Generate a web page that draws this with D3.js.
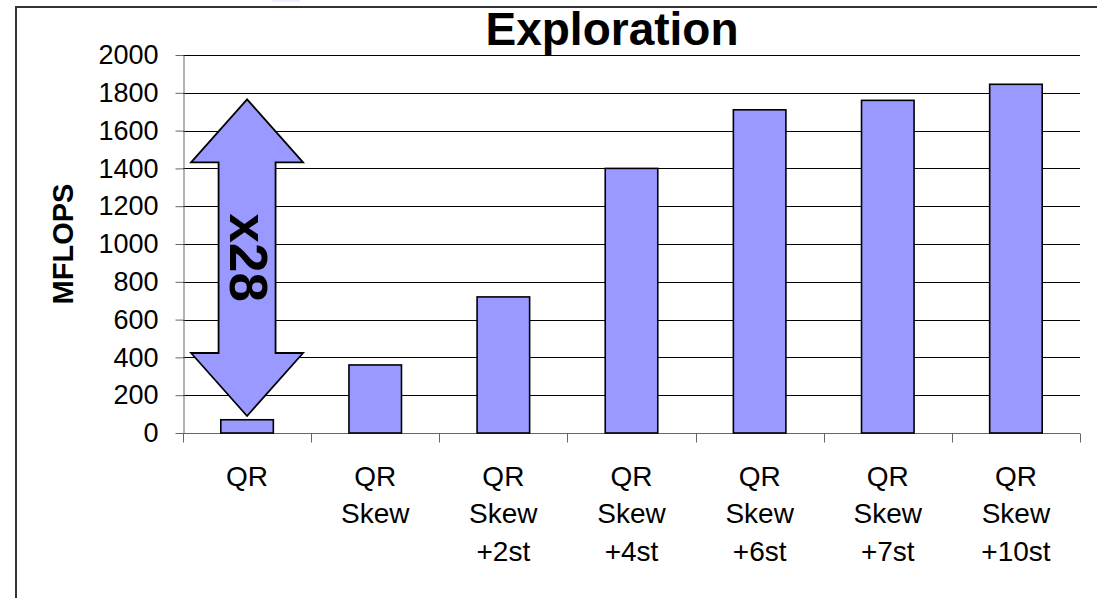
<!DOCTYPE html>
<html>
<head>
<meta charset="utf-8">
<script src="https://cdn.jsdelivr.net/npm/d3@7"></script>
<style>
  body { margin: 0; background: #fff; }
  svg { display: block; font-family: "Liberation Sans", Arial, sans-serif; }
</style>
</head>
<body>
<script>
//chart data
var categories = [["QR"], ["QR", "Skew"], ["QR", "Skew", "+2st"], ["QR", "Skew", "+4st"],
                  ["QR", "Skew", "+6st"], ["QR", "Skew", "+7st"], ["QR", "Skew", "+10st"]];
var mflops = [70, 360, 720, 1400, 1710, 1760, 1845];
var yTicks = [0, 200, 400, 600, 800, 1000, 1200, 1400, 1600, 1800, 2000];
var arrowRange = [90, 1765]; //speedup arrow, in MFLOPS
var arrowLabel = "x28";

window.onload = function(){
    var width = 1097, height = 598;
    var margin = {left: 183, right: 17, top: 55, bottom: 165};

    var svg = d3.select("body").append("svg")
        .attr("width", width)
        .attr("height", height);

    //outer frame
    svg.append("rect")
        .attr("x", 16).attr("y", 7)
        .attr("width", width + 10).attr("height", height + 10)
        .attr("fill", "none")
        .attr("stroke", "#333")
        .attr("stroke-width", 2);
    svg.append("rect")
        .attr("x", 272).attr("y", 0).attr("width", 28).attr("height", 2)
        .attr("fill", "#eeeeff");

    var x = d3.scaleBand()
        .domain(d3.range(categories.length))
        .range([margin.left, width - margin.right]);

    var y = d3.scaleLinear()
        .domain([0, 2000])
        .range([height - margin.bottom, margin.top]);

    //gridlines
    svg.append("g")
        .selectAll("line")
        .data(yTicks.slice(1))
        .enter()
        .append("line")
        .attr("x1", margin.left)
        .attr("x2", width - margin.right)
        .attr("y1", function(d){ return Math.round(y(d)) + 0.5; })
        .attr("y2", function(d){ return Math.round(y(d)) + 0.5; })
        .attr("stroke", "#000")
        .attr("stroke-width", 1);

    //y axis
    var yAxis = svg.append("g")
        .attr("transform", "translate(" + (margin.left + 0.5) + ",0)")
        .call(d3.axisLeft(y).tickValues(yTicks).tickFormat(d3.format("d"))
            .tickSize(8).tickPadding(17).tickSizeOuter(0));
    yAxis.selectAll("text")
        .attr("font-size", 27)
        .attr("font-family", "Liberation Sans, Arial, sans-serif")
        .attr("fill", "#000");
    yAxis.selectAll("line, path").attr("stroke", "#666");

    //x axis with ticks between categories
    var xAxisG = svg.append("g");
    var baseY = Math.round(y(0)) + 0.5;
    xAxisG.append("line")
        .attr("x1", margin.left).attr("x2", width - margin.right)
        .attr("y1", baseY).attr("y2", baseY)
        .attr("stroke", "#666");
    xAxisG.selectAll(".xtick")
        .data(d3.range(categories.length + 1))
        .enter()
        .append("line")
        .attr("class", "xtick")
        .attr("x1", function(i){ return Math.round(margin.left + i * x.step()) + 0.5; })
        .attr("x2", function(i){ return Math.round(margin.left + i * x.step()) + 0.5; })
        .attr("y1", baseY).attr("y2", baseY + 9)
        .attr("stroke", "#666");

    //category labels
    var labels = svg.selectAll(".xlabel")
        .data(categories)
        .enter()
        .append("text")
        .attr("class", "xlabel")
        .attr("text-anchor", "middle")
        .attr("font-size", 28)
        .attr("transform", function(d, i){
            return "translate(" + (x(i) + x.bandwidth() / 2) + "," + (baseY + 52) + ")";
        });
    labels.selectAll("tspan")
        .data(function(d){ return d; })
        .enter()
        .append("tspan")
        .attr("x", 0)
        .attr("y", function(d, j){ return j * 37.5; })
        .text(function(d){ return d; });

    //bars
    var barW = x.bandwidth() * 0.41;
    svg.selectAll(".bars")
        .data(mflops)
        .enter()
        .append("rect")
        .attr("class", "bars")
        .attr("x", function(d, i){ return x(i) + (x.bandwidth() - barW) / 2; })
        .attr("width", barW)
        .attr("y", function(d){ return y(d); })
        .attr("height", function(d){ return y(0) - y(d); })
        .attr("fill", "#9999ff")
        .attr("stroke", "#000")
        .attr("stroke-width", 1.6);

    //double-headed arrow over first bar
    var cx = x(0) + x.bandwidth() / 2;
    var top = y(arrowRange[1]), bot = y(arrowRange[0]);
    var headHalf = 56, shaftHalf = 28.5, headLen = 63;
    var pts = [
        [cx, top],
        [cx + headHalf, top + headLen],
        [cx + shaftHalf, top + headLen],
        [cx + shaftHalf, bot - headLen],
        [cx + headHalf, bot - headLen],
        [cx, bot],
        [cx - headHalf, bot - headLen],
        [cx - shaftHalf, bot - headLen],
        [cx - shaftHalf, top + headLen],
        [cx - headHalf, top + headLen]
    ];
    svg.append("path")
        .attr("d", d3.line()(pts) + "Z")
        .attr("fill", "#9999ff")
        .attr("stroke", "#000")
        .attr("stroke-width", 1.8)
        .attr("stroke-linejoin", "miter");

    svg.append("text")
        .attr("transform", "translate(" + (cx - 17) + "," + ((top + bot) / 2) + ") rotate(90)")
        .attr("text-anchor", "middle")
        .attr("font-size", 53)
        .attr("font-weight", "bold")
        .text(arrowLabel);

    //title
    svg.append("text")
        .attr("x", 612)
        .attr("y", 45)
        .attr("text-anchor", "middle")
        .attr("font-size", 46)
        .attr("font-weight", "bold")
        .text("Exploration");

    //y axis title
    svg.append("text")
        .attr("transform", "translate(73," + 244 + ") rotate(-90)")
        .attr("text-anchor", "middle")
        .attr("font-size", 29)
        .attr("font-weight", "bold")
        .text("MFLOPS");
};
</script>
</body>
</html>
